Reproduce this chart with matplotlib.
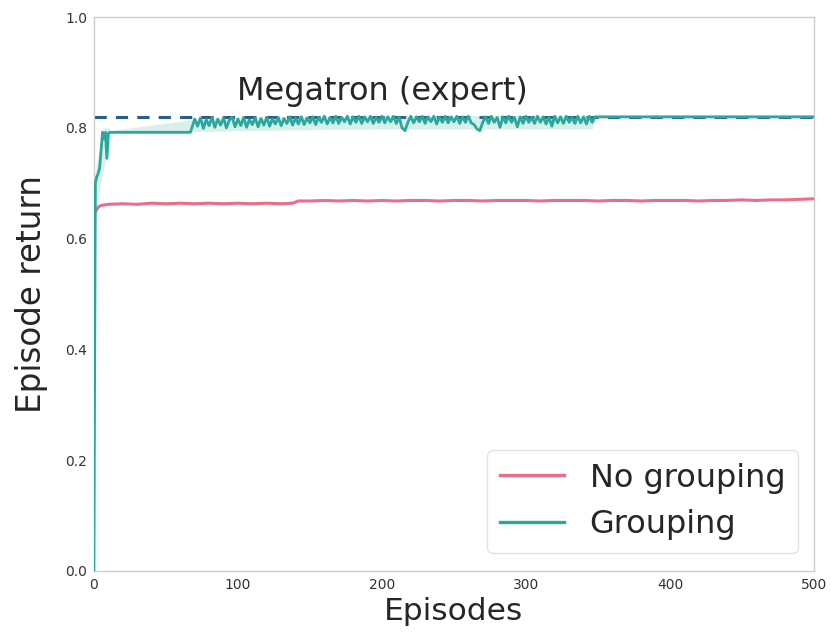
import matplotlib
matplotlib.use("Agg")
import matplotlib.pyplot as plt
import numpy as np

# "No grouping" curve, sampled every 10 episodes (first points denser)
red_x = [1, 3, 5, 10, 20, 30, 40, 50, 60, 70, 80, 90, 100, 110, 120, 130, 138,
         142, 150, 160, 170, 180, 190, 200, 210, 220, 230, 240, 250, 260, 270,
         280, 290, 300, 310, 320, 330, 340, 350, 360, 370, 380, 390, 400, 410,
         420, 430, 440, 450, 460, 470, 480, 490, 500]
red_y = [0.648, 0.657, 0.660, 0.662, 0.663, 0.662, 0.664, 0.663, 0.664, 0.663,
         0.664, 0.663, 0.664, 0.663, 0.664, 0.663, 0.664, 0.668, 0.668, 0.669,
         0.668, 0.669, 0.668, 0.669, 0.668, 0.669, 0.669, 0.668, 0.669, 0.669,
         0.668, 0.669, 0.669, 0.669, 0.668, 0.669, 0.669, 0.669, 0.668, 0.669,
         0.669, 0.668, 0.669, 0.669, 0.669, 0.668, 0.669, 0.669, 0.670, 0.669,
         0.670, 0.670, 0.671, 0.672]

# "Grouping" curve: early climb, plateau, noisy phase (every 2 episodes), converged
green_early_x = [0, 1, 2, 3, 4, 5, 6, 7, 8, 9, 10, 11, 67]
green_early_y = [0.0, 0.700, 0.712, 0.718, 0.728, 0.760, 0.792, 0.780, 0.792,
                 0.745, 0.790, 0.792, 0.792]
green_noisy_y = [
    0.800, 0.816, 0.803, 0.818, 0.799, 0.815, 0.804, 0.819, 0.801, 0.816,
    0.805, 0.818, 0.800, 0.814, 0.819, 0.802, 0.816, 0.804, 0.819, 0.801,
    0.815, 0.806, 0.818, 0.802, 0.817, 0.805, 0.819, 0.803, 0.816, 0.807,
    0.819, 0.804, 0.817, 0.808, 0.820, 0.805, 0.818, 0.807, 0.820, 0.806,
    0.818, 0.809, 0.820, 0.806, 0.819, 0.810, 0.821, 0.807, 0.819, 0.809,
    0.821, 0.808, 0.819, 0.811, 0.821, 0.807, 0.820, 0.810, 0.821, 0.808,
    0.820, 0.811, 0.821, 0.808, 0.819, 0.810, 0.821, 0.809, 0.820, 0.811,
    0.821, 0.808, 0.819, 0.800, 0.795, 0.810, 0.821, 0.809, 0.820, 0.811,
    0.821, 0.808, 0.820, 0.811, 0.821, 0.807, 0.819, 0.810, 0.821, 0.809,
    0.820, 0.811, 0.821, 0.808, 0.820, 0.810, 0.821, 0.809, 0.806, 0.798,
    0.795, 0.810, 0.820, 0.808, 0.821, 0.810, 0.819, 0.801, 0.820, 0.809,
    0.821, 0.810, 0.819, 0.802, 0.820, 0.808, 0.821, 0.810, 0.819, 0.808,
    0.821, 0.810, 0.820, 0.807, 0.819, 0.803, 0.821, 0.809, 0.820, 0.808,
    0.821, 0.810, 0.819, 0.808, 0.821, 0.809, 0.820, 0.807, 0.821, 0.810,
]
green_late_x = [348, 500]
green_late_y = [0.820, 0.820]

# light spread band around the grouping curve
band_x = [1, 2, 4, 6, 8, 10, 12, 68, 100, 150, 200, 250, 300, 346, 348, 500]
band_lo = [0.62, 0.66, 0.69, 0.72, 0.74, 0.76, 0.79, 0.793, 0.795, 0.797,
           0.798, 0.798, 0.798, 0.798, 0.818, 0.818]
band_hi = [0.72, 0.74, 0.76, 0.80, 0.80, 0.80, 0.795, 0.815, 0.819, 0.821,
           0.822, 0.822, 0.822, 0.822, 0.821, 0.821]

expert_return = 0.82

green_x = green_early_x + list(range(68, 347, 2)) + green_late_x
green_y = green_early_y + green_noisy_y + green_late_y

red = "#ea6d8a"
teal = "#2ba89a"
text_col = "#262626"

fig = plt.figure(figsize=(8.31, 6.34), dpi=100)
ax = fig.add_axes([0.113, 0.0994, 0.8665, 0.8736])

ax.axhline(expert_return, color="#2b5d8c", linestyle="--", linewidth=2.2,
           dashes=(4, 3), zorder=1)
ax.fill_between(band_x, band_lo, band_hi, color=teal, alpha=0.18,
                linewidth=0, zorder=2)
ax.plot(red_x, red_y, color=red, linewidth=2.2, label="No grouping", zorder=3)
ax.plot(green_x, green_y, color=teal, linewidth=2.0, label="Grouping", zorder=4)

ax.text(200, 0.866, "Megatron (expert)", fontsize=23, color=text_col,
        ha="center", va="center")

ax.set_xlim(0, 500)
ax.set_ylim(0, 1.0)
ax.set_xticks([0, 100, 200, 300, 400, 500])
ax.set_yticks(np.arange(0, 1.01, 0.2))
ax.set_yticklabels(["0.0", "0.2", "0.4", "0.6", "0.8", "1.0"])
ax.tick_params(length=0, labelsize=10, labelcolor="#333333", pad=5)
for s in ax.spines.values():
    s.set_color("#cccccc")
    s.set_linewidth(1.0)

ax.set_xlabel("Episodes", fontsize=22.5, color=text_col, labelpad=4)
ax.set_ylabel("Episode return", fontsize=23.5, color=text_col, labelpad=12)

leg = ax.legend(loc="lower right", fontsize=23, frameon=True, fancybox=True,
                borderpad=0.4, handlelength=2.0, borderaxespad=0,
                bbox_to_anchor=(0.978, 0.032), labelcolor=text_col)
leg.get_frame().set_edgecolor("#dddddd")
for line in leg.get_lines():
    line.set_linewidth(2.4)

fig.savefig("out.png", dpi=100)
